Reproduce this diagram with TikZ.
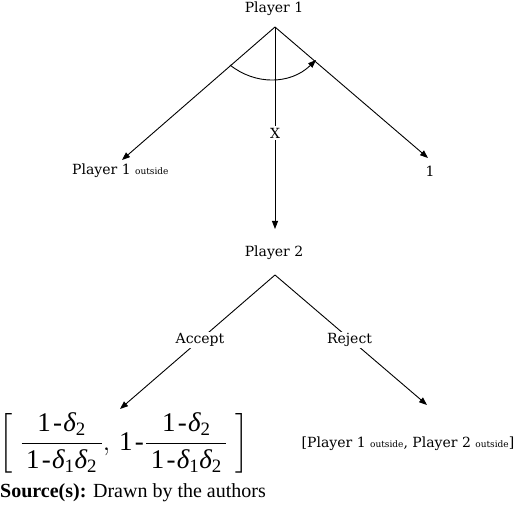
\RequirePackage{fix-cm}
\documentclass[tikz,border=0pt]{standalone}
\usepackage{amsmath}
\usepackage{graphicx}
\usepackage{fontspec}
\setmainfont{Liberation Serif}
\newfontfamily\lblfont{DejaVu Serif}
\usetikzlibrary{arrows.meta}
\newcommand{\dl}{\text{\itshape δ}}
\newcommand{\om}{\text{1\kern0.08em-\kern0.05em}}
\newcommand{\fr}{\dfrac{\,\om\dl_{\text{2}}\,}{\,\om\dl_{\text{1}}\dl_{\text{2}}\,}}
\begin{document}
\begin{tikzpicture}[x=1pt,y=-1pt,
  lbl/.style={font=\lblfont\fontsize{14}{16}\selectfont, inner sep=1pt},
  edge/.style={line width=0.9pt, -{Triangle[length=8pt,width=6pt]}}]
\useasboundingbox (0,0) rectangle (520,513);
% Player 1
\node[lbl] (p1) at (274,9) {Player 1};
\coordinate (a1) at (275,27);
\coordinate (t1l) at (122,160);
\coordinate (t1r) at (428,158);
\coordinate (t1d) at (275,229);
\draw[edge] (a1) -- (t1l);
\draw[edge] (a1) -- (t1r);
\draw[edge] (a1) -- (t1d);
\node[lbl, fill=white, inner sep=2pt] (x) at (275,133) {X};
\node[lbl, anchor=west] (l1) at (71,171) {Player 1 {\fontsize{9}{10}\selectfont outside}};
\node[lbl] (r1) at (430,171) {1};
% arc
\coordinate (arcs) at (230,65);
\coordinate (arce) at (316,60);
\draw[line width=0.9pt, -{Triangle[length=8pt,width=6pt]}] (arcs) .. controls (255,85) and (290,85) .. (arce);
% Player 2
\node[lbl] (p2) at (274,253) {Player 2};
\coordinate (a2) at (275,275);
\coordinate (t2l) at (120,409);
\coordinate (t2r) at (427,405);
\draw[edge] (a2) -- (t2l);
\draw[edge] (a2) -- (t2r);
\node[lbl, fill=white] (acc) at (200,340) {Accept};
\node[lbl, fill=white] (rej) at (349.5,340) {Reject};
% outcomes
\node[inner sep=0pt] (f) at (124,443) {\fontsize{27}{32}\selectfont$\left[\;\fr,\,\om\fr\;\right]$};
\node[lbl] (o2) at (408,444) {[Player 1 {\fontsize{9}{10}\selectfont outside}, Player 2 {\fontsize{9}{10}\selectfont outside}]};
% source
\node[anchor=base west, inner sep=0pt, font=\fontsize{20}{23}\selectfont] (src) at (0,497) {\textbf{Source(s):} Drawn by the authors};
\end{tikzpicture}
\end{document}
